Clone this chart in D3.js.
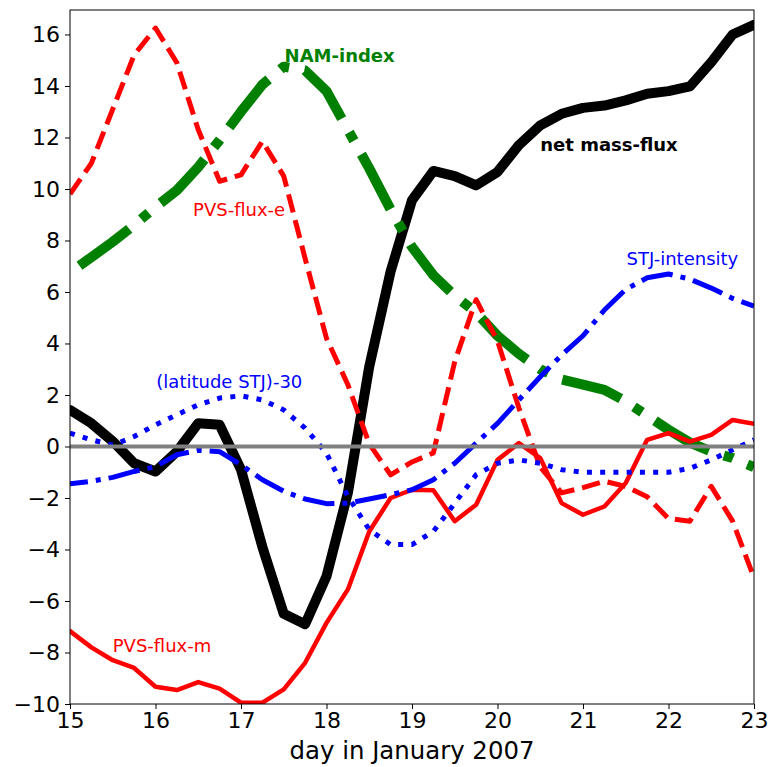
<!DOCTYPE html>
<html>
<head>
<meta charset="utf-8">
<script src="https://cdn.jsdelivr.net/npm/d3@7"></script>
<style>
  body { margin: 0; background: #fff; }
  text { font-family: "DejaVu Sans", sans-serif; }
</style>
</head>
<body>
<div id="chart"></div>
<script>
// 6-hourly samples, day in January 2007
const days = [15, 15.25, 15.5, 15.75, 16, 16.25, 16.5, 16.75, 17, 17.25, 17.5, 17.75,
  18, 18.25, 18.5, 18.75, 19, 19.25, 19.5, 19.75, 20, 20.25, 20.5, 20.75,
  21, 21.25, 21.5, 21.75, 22, 22.25, 22.5, 22.75, 23]

const netMassFlux = [1.42, 0.9, 0.2, -0.65, -0.97, -0.2, 0.9, 0.84, -0.9, -3.9, -6.5, -6.9,
  -5.04, -1.8, 3.1, 6.8, 9.56, 10.7, 10.5, 10.14, 10.66, 11.7, 12.47, 12.92,
  13.15, 13.24, 13.44, 13.7, 13.8, 13.98, 14.92, 16.0, 16.38]

const namIndex = [6.75, 7.35, 7.95, 8.6, 9.3, 9.95, 10.85, 11.9, 13.0, 14.05, 14.75, 14.6,
  13.8, 12.3, 10.8, 9.2, 7.75, 6.65, 5.85, 5.2, 4.3, 3.6, 3.0, 2.6,
  2.4, 2.2, 1.75, 1.2, 0.65, 0.15, -0.2, -0.45, -0.8]

const pvsFluxE = [9.8, 11.0, 13.1, 15.2, 16.25, 14.9, 12.3, 10.3, 10.55, 11.85, 10.5, 7.3,
  4.2, 2.4, 0.1, -1.1, -0.6, -0.25, 3.3, 5.7, 4.1, 1.5, -0.8, -1.8,
  -1.6, -1.35, -1.55, -1.95, -2.8, -2.9, -1.55, -2.9, -5.1]

const pvsFluxM = [-7.17, -7.8, -8.3, -8.6, -9.33, -9.46, -9.15, -9.4, -9.95, -9.95, -9.43, -8.4,
  -6.85, -5.55, -3.3, -2.0, -1.68, -1.7, -2.9, -2.26, -0.52, 0.13, -0.45, -2.2,
  -2.65, -2.33, -1.42, 0.26, 0.52, 0.19, 0.45, 1.03, 0.88]

const stjIntensity = [-1.45, -1.35, -1.2, -0.97, -0.78, -0.32, -0.15, -0.2, -0.71, -1.29, -1.74, -2.04,
  -2.22, -2.2, -2.04, -1.87, -1.68, -1.29, -0.65, 0.13, 0.9, 1.81, 2.71, 3.55,
  4.3, 5.3, 6.1, 6.55, 6.7, 6.5, 6.15, 5.75, 5.45]

const latitudeSTJ = [0.52, 0.26, 0.05, 0.39, 0.84, 1.23, 1.62, 1.88, 1.97, 1.81, 1.42, 0.71,
  -0.26, -1.94, -3.23, -3.81, -3.81, -3.3, -2.2, -1.1, -0.65, -0.52, -0.65, -0.9,
  -1.0, -1.0, -1.0, -1.0, -1.0, -0.85, -0.52, -0.13, 0.26]

const xTicks = [15, 16, 17, 18, 19, 20, 21, 22, 23]
const yTicks = [-10, -8, -6, -4, -2, 0, 2, 4, 6, 8, 10, 12, 14, 16]

// line styles, matplotlib-like dash patterns scaled by line width
// (offset mimics the dash phase of lines that start left of the axis)
const series = [
  { values: netMassFlux, color: '#000000', width: 10, dash: null, offset: 0 },
  { values: namIndex, color: '#008000', width: 10, dash: '62,15.5,9.7,15.5', offset: 91 },
  { values: pvsFluxE, color: '#ff0000', width: 5, dash: '18.5,8', offset: 0 },
  { values: pvsFluxM, color: '#ff0000', width: 4.5, dash: null, offset: 0 },
  { values: stjIntensity, color: '#0000ff', width: 5, dash: '32,8,5,8', offset: 14 },
  { values: latitudeSTJ, color: '#0000ff', width: 5, dash: '5,8.25', offset: 0 }
]

// text labels placed in data coordinates
const labels = [
  { text: 'NAM-index', x: 17.51, y: 14.95, color: '#008000', bold: true },
  { text: 'net mass-flux', x: 20.5, y: 11.46, color: '#000000', bold: true },
  { text: 'PVS-flux-e', x: 16.44, y: 8.94, color: '#ff0000', bold: false },
  { text: 'STJ-intensity', x: 21.51, y: 7.04, color: '#0000ff', bold: false },
  { text: '(latitude STJ)-30', x: 16.01, y: 2.28, color: '#0000ff', bold: false },
  { text: 'PVS-flux-m', x: 15.5, y: -8.0, color: '#ff0000', bold: false }
]

const W = 771
const H = 767
const margin = { top: 10, right: 17, bottom: 63, left: 70 }
const width = W - margin.left - margin.right
const height = H - margin.top - margin.bottom

const svg = d3.select('#chart')
  .append('svg')
  .attr('width', W)
  .attr('height', H)

const g = svg.append('g')
  .attr('transform', `translate(${margin.left},${margin.top})`)

const x = d3.scaleLinear().domain([15, 23]).range([0, width])
const y = d3.scaleLinear().domain([-10, 16.95]).range([height, 0])

g.append('clipPath').attr('id', 'plotclip')
  .append('rect').attr('width', width).attr('height', height)

const line = d3.line()
  .x(function (d) { return x(d[0]) })
  .y(function (d) { return y(d[1]) })

const plot = g.append('g').attr('clip-path', 'url(#plotclip)')

series.forEach(function (s) {
  plot.append('path')
    .datum(days.map(function (d, i) { return [d, s.values[i]] }))
    .attr('d', line)
    .attr('fill', 'none')
    .attr('stroke', s.color)
    .attr('stroke-width', s.width)
    .attr('stroke-linejoin', 'round')
    .attr('stroke-linecap', s.dash ? 'butt' : 'round')
    .attr('stroke-dasharray', s.dash)
    .attr('stroke-dashoffset', s.offset)
})

// zero line
plot.append('line')
  .attr('x1', 0).attr('x2', width)
  .attr('y1', y(0)).attr('y2', y(0))
  .attr('stroke', '#808080')
  .attr('stroke-width', 4)

// frame
g.append('rect')
  .attr('width', width).attr('height', height)
  .attr('fill', 'none')
  .attr('stroke', '#000')
  .attr('stroke-width', 1)

const xAxis = g.append('g')
  .attr('transform', `translate(0,${height})`)
  .call(d3.axisBottom(x).tickValues(xTicks).tickSize(5).tickSizeOuter(0).tickPadding(3.5).tickFormat(d3.format('d')))
const yAxis = g.append('g')
  .call(d3.axisLeft(y).tickValues(yTicks).tickSize(5).tickSizeOuter(0).tickPadding(5).tickFormat(d3.format('d')))

;[xAxis, yAxis].forEach(function (ax) {
  ax.select('.domain').remove()
  ax.selectAll('line').attr('stroke', '#000').attr('stroke-width', 1)
  ax.selectAll('text')
    .attr('fill', '#000')
    .style('font-size', '22px')
    .style('font-family', '"DejaVu Sans", sans-serif')
})

svg.append('text')
  .attr('x', margin.left + width / 2)
  .attr('y', 759)
  .attr('text-anchor', 'middle')
  .style('font-size', '24.4px')
  .attr('fill', '#000')
  .text('day in January 2007')

g.selectAll('text.lbl')
  .data(labels)
  .enter()
  .append('text')
  .attr('class', 'lbl')
  .attr('x', function (d) { return x(d.x) })
  .attr('y', function (d) { return y(d.y) })
  .attr('fill', function (d) { return d.color })
  .style('font-size', '18px')
  .style('font-weight', function (d) { return d.bold ? 'bold' : 'normal' })
  .text(function (d) { return d.text })
</script>
</body>
</html>
